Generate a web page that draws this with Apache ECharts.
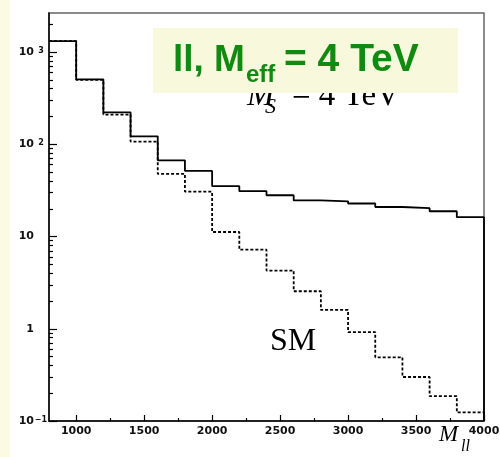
<!DOCTYPE html>
<html><head><meta charset="utf-8">
<script src="https://cdn.jsdelivr.net/npm/echarts@6/dist/echarts.min.js"></script>
<style>html,body{margin:0;padding:0;background:#fff}#c{width:500px;height:457px}</style>
</head><body><div id="c"></div>
<script>
// ---- data ----
const binLowEdges = [800,1000,1200,1400,1600,1800,2000,2200,2400,2600,2800,3000,3200,3400,3600,3800];
const binUpperEdge = 4000;
const totalCounts = [1316, 506, 222, 122, 67, 51.4, 35.1, 31, 28, 24.6, 24.1, 22.8, 20.9, 20.3, 18.8, 16.2];
const smCounts    = [1316, 500, 210, 107, 47.7, 30.6, 11.2, 7.2, 4.27, 2.55, 1.6, 0.92, 0.49, 0.30, 0.186, 0.124];
const xTickValues = [1000,1500,2000,2500,3000,3500,4000];
const xMinorTickValues = [1250,1750,2250,2750,3250,3750];
const yTickValues = [0.1, 1, 10, 100, 1000];
const yTickBase = ['10', '1', '10', '10', '10'];
const yTickExp  = ['\u22121', '', '', '2', '3'];
const xMin = 800, xMax = 4000, yMin = 0.1, yMax = 2650;

const yMinorTickValues = [];
yTickValues.forEach(d => { for (let m = 2; m <= 9; m++) { if (m * d <= yMax) yMinorTickValues.push(m * d); } });

const toSteps = counts => binLowEdges.map((x, i) => [x, counts[i]])
  .concat([[binUpperEdge, counts[counts.length - 1]], [binUpperEdge, yMin]]);

const labFont = {fontFamily: 'DejaVu Sans', fontWeight: 'bold', color: '#111'};
const tickStyle = {color: '#000', width: 1.2};

const chart = echarts.init(document.getElementById('c'), null, {renderer: 'canvas'});
chart.setOption({
  animation: false,
  backgroundColor: '#fff',
  grid: {left: 49, right: 16, top: 13, bottom: 36, show: true, borderColor: '#666', borderWidth: 1.5,
         backgroundColor: '#fff', containLabel: false, outerBoundsMode: 'none'},
  xAxis: [
    {type: 'value', min: xMin, max: xMax, position: 'bottom',
     axisLine: {show: true, lineStyle: {color: '#000', width: 1.5}},
     axisTick: {show: true, inside: true, length: 6, customValues: xTickValues, lineStyle: tickStyle},
     axisLabel: Object.assign({customValues: xTickValues, margin: 5, fontSize: 11, formatter: v => String(v)}, labFont),
     splitLine: {show: false}},
    {type: 'value', min: xMin, max: xMax, position: 'bottom',
     axisLine: {show: false},
     axisTick: {show: true, inside: true, length: 3, customValues: xMinorTickValues, lineStyle: tickStyle},
     axisLabel: {show: false}, splitLine: {show: false}}
  ],
  yAxis: [
    {type: 'log', logBase: 10, min: yMin, max: yMax, position: 'left',
     axisLine: {show: true, lineStyle: {color: '#000', width: 1.5}},
     axisTick: {show: true, inside: true, length: 8, customValues: yTickValues, lineStyle: tickStyle},
     axisLabel: {
       customValues: yTickValues, margin: 3,
       formatter: v => {
         const i = yTickValues.findIndex(t => Math.abs(Math.log10(v) - Math.log10(t)) < 1e-6);
         if (i < 0) return '';
         return '{b|' + yTickBase[i] + '}{s|' + (yTickExp[i] || ' ') + '}';
       },
       rich: {
         b: Object.assign({fontSize: 11, lineHeight: 11}, labFont),
         s: Object.assign({fontSize: 8, lineHeight: 8, verticalAlign: 'top', padding: [0, 0, 14, 2], width: 10, align: 'left'}, labFont)
       }
     },
     splitLine: {show: false}},
    {type: 'log', logBase: 10, min: yMin, max: yMax, position: 'left',
     axisLine: {show: false},
     axisTick: {show: true, inside: true, length: 4, customValues: yMinorTickValues, lineStyle: tickStyle},
     axisLabel: {show: false}, splitLine: {show: false}}
  ],
  series: [
    {name: 'SM', type: 'line', step: 'end', xAxisIndex: 0, yAxisIndex: 0, showSymbol: false, symbol: 'none', z: 3,
     lineStyle: {color: '#000', width: 1.8, type: [3, 2]}, data: toSteps(smCounts)},
    {name: 'SM + signal', type: 'line', step: 'end', xAxisIndex: 0, yAxisIndex: 0, showSymbol: false, symbol: 'none', z: 4,
     lineStyle: {color: '#000', width: 1.8}, data: toSteps(totalCounts)}
  ],
  graphic: [
    {type: 'rect', z: 1, shape: {x: 0, y: 0, width: 10, height: 457}, style: {fill: '#fbfbe4'}},
    {type: 'text', z: 90, style: {text: 'M', x: 247, y: 96, font: 'italic 33px "Liberation Serif"', fill: '#000', textVerticalAlign: 'middle'}},
    {type: 'text', z: 90, style: {text: 'S', x: 265, y: 107, font: 'italic 22px "Liberation Serif"', fill: '#000', textVerticalAlign: 'middle'}},
    {type: 'text', z: 90, style: {text: '= 4 TeV', x: 292, y: 96, font: '33px "Liberation Serif"', fill: '#000', textVerticalAlign: 'middle'}},
    {type: 'rect', z: 100, shape: {x: 153, y: 28, width: 305, height: 65}, style: {fill: '#f8f8dc'}},
    {type: 'text', z: 101, style: {text: 'll, M', x: 173, y: 60.5, font: 'bold 37px "Liberation Sans"', fill: '#118a11', textVerticalAlign: 'middle'}},
    {type: 'text', z: 101, style: {text: 'eff', x: 246, y: 75, font: 'bold 24px "Liberation Sans"', fill: '#118a11', textVerticalAlign: 'middle'}},
    {type: 'text', z: 101, style: {text: '= 4 TeV', x: 284, y: 60.5, font: 'bold 39px "Liberation Sans"', fill: '#118a11', textVerticalAlign: 'middle'}},
    {type: 'text', z: 90, style: {text: 'SM', x: 270, y: 342, font: '32px "Liberation Serif"', fill: '#000', textVerticalAlign: 'middle'}},
    {type: 'text', z: 90, style: {text: 'M', x: 439, y: 434.5, font: 'italic 23px "Liberation Serif"', fill: '#000', textVerticalAlign: 'middle'}},
    {type: 'text', z: 90, style: {text: 'll', x: 461, y: 446.5, font: 'italic 16px "Liberation Serif"', fill: '#000', textVerticalAlign: 'middle'}}
  ]
});
</script>
</body></html>
